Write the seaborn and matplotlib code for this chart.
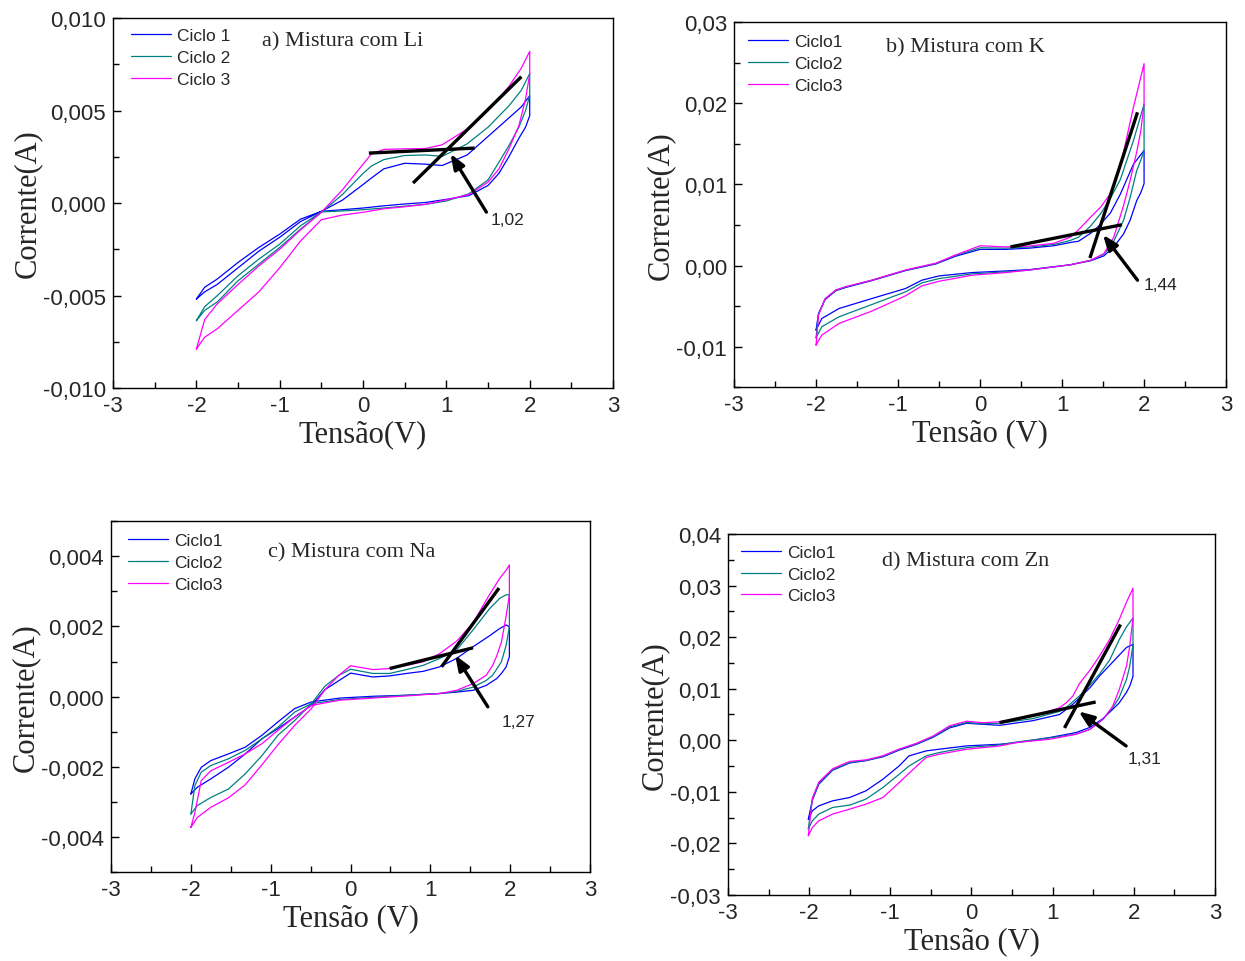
import matplotlib
matplotlib.use("Agg")
import matplotlib.pyplot as plt
from matplotlib.lines import Line2D
from matplotlib.ticker import MultipleLocator, FuncFormatter
import pandas as pd
import seaborn as sns

# ---------------- data (current in mA, potential in V) ----------------
# Panel a) Li
A_V_FWD = [-2.0, -1.9, -1.75, -1.5, -1.25, -1.0, -0.75, -0.5, -0.25, 0.0, 0.1, 0.25, 0.5, 0.75, 0.95, 1.25, 1.5, 1.75, 1.9, 2.0]
A_C1_FWD = [-5.19, -4.8, -4.4, -3.5, -2.6, -1.85, -1.0, -0.45, 0.15, 1.0, 1.35, 1.85, 2.15, 2.1, 2.03, 2.6, 3.6, 4.6, 5.2, 5.8]
A_C2_FWD = [-6.36, -5.8, -5.35, -4.2, -3.3, -2.4, -1.41, -0.5, 0.45, 1.6, 2.0, 2.35, 2.57, 2.6, 2.52, 3.2, 4.1, 5.25, 6.1, 7.0]
A_C3_FWD = [-7.89, -6.3, -5.45, -4.4, -3.4, -2.5, -1.45, -0.5, 0.7, 2.1, 2.65, 2.9, 2.93, 2.95, 3.15, 4.0, 5.0, 6.3, 7.3, 8.2]
A_V_REV = [2.0, 1.95, 1.87, 1.75, 1.63, 1.5, 1.27, 1.0, 0.75, 0.5, 0.25, 0.0, -0.25, -0.5, -0.75, -1.0, -1.25, -1.5, -1.75, -1.9, -2.0]
A_C1_REV = [4.72, 4.1, 3.5, 2.5, 1.6, 0.95, 0.4, 0.2, 0.03, -0.05, -0.15, -0.27, -0.36, -0.45, -0.87, -1.68, -2.4, -3.21, -4.11, -4.55, -5.19]
A_C2_REV = [5.8, 5.0, 4.1, 3.1, 2.2, 1.25, 0.5, 0.11, -0.07, -0.17, -0.27, -0.36, -0.43, -0.48, -1.23, -2.22, -3.03, -3.93, -5.01, -5.6, -6.36]
A_C3_REV = [6.97, 5.62, 4.18, 2.92, 1.84, 1.13, 0.45, 0.18, -0.07, -0.2, -0.31, -0.5, -0.65, -0.9, -2.05, -3.5, -4.8, -5.8, -6.8, -7.25, -7.89]

# Panel b) K
B_V_FWD = [-2.0, -1.97, -1.89, -1.76, -1.64, -1.32, -0.91, -0.54, -0.3, 0.0, 0.31, 0.6, 0.9, 1.1, 1.2, 1.35, 1.47, 1.59, 1.71, 1.87, 2.0]
B_C1_FWD = [-7.95, -5.9, -4.2, -3.1, -2.7, -1.85, -0.62, 0.2, 1.15, 2.0, 2.0, 2.15, 2.45, 2.85, 3.0, 4.0, 5.1, 6.5, 8.8, 12.5, 14.2]
B_C2_FWD = [-8.9, -6.0, -4.1, -3.05, -2.65, -1.8, -0.58, 0.25, 1.25, 2.2, 2.15, 2.3, 2.6, 3.1, 3.5, 4.9, 6.4, 8.3, 10.6, 15.4, 19.9]
B_C3_FWD = [-9.8, -6.1, -4.1, -3.0, -2.6, -1.8, -0.55, 0.3, 1.3, 2.45, 2.3, 2.4, 2.75, 3.5, 4.4, 6.0, 7.2, 8.9, 12.2, 19.5, 24.9]
B_V_REV = [2.0, 1.96, 1.91, 1.83, 1.75, 1.63, 1.51, 1.35, 1.1, 0.6, 0.31, -0.1, -0.5, -0.71, -0.91, -1.32, -1.72, -1.93, -2.0]
B_C1_REV = [10.1, 9.0, 8.0, 5.6, 3.9, 2.3, 1.2, 0.6, 0.1, -0.5, -0.66, -0.86, -1.27, -1.8, -2.83, -4.06, -5.29, -6.52, -7.95]
B_C2_REV = [14.2, 13.0, 11.7, 8.4, 5.6, 3.0, 1.4, 0.66, 0.1, -0.55, -0.78, -1.02, -1.6, -2.13, -3.24, -4.8, -6.31, -7.54, -8.9]
B_C3_REV = [19.9, 16.6, 14.0, 10.5, 7.4, 3.5, 1.48, 0.66, 0.1, -0.55, -0.86, -1.19, -1.93, -2.5, -3.73, -5.61, -7.13, -8.57, -9.8]

# Panel c) Na
C_V_FWD = [-2.0, -1.92, -1.75, -1.53, -1.32, -1.11, -0.91, -0.7, -0.49, -0.32, -0.15, 0.0, 0.28, 0.49, 0.7, 0.91, 1.12, 1.33, 1.535, 1.74, 1.87, 1.95, 1.99]
C_C1_FWD = [-2.77, -2.58, -2.34, -2.01, -1.63, -1.2, -0.91, -0.58, -0.25, 0.2, 0.45, 0.67, 0.56, 0.59, 0.66, 0.72, 0.85, 1.09, 1.42, 1.73, 1.94, 2.04, 1.99]
C_C2_FWD = [-3.34, -3.1, -2.87, -2.63, -2.2, -1.68, -1.1, -0.68, -0.2, 0.3, 0.6, 0.78, 0.66, 0.66, 0.77, 0.89, 1.09, 1.33, 1.9, 2.5, 2.8, 2.9, 2.9]
C_C3_FWD = [-3.72, -3.44, -3.15, -2.88, -2.51, -1.94, -1.37, -0.82, -0.34, 0.2, 0.6, 0.88, 0.77, 0.8, 0.89, 0.99, 1.23, 1.58, 2.1, 2.9, 3.37, 3.6, 3.75]
C_V_REV = [1.99, 1.95, 1.89, 1.83, 1.78, 1.7, 1.535, 1.33, 1.12, 0.7, 0.28, -0.13, -0.49, -0.7, -0.91, -1.11, -1.32, -1.53, -1.75, -1.87, -1.95, -2.0]
C_C1_REV = [1.14, 0.85, 0.66, 0.51, 0.44, 0.32, 0.18, 0.13, 0.09, 0.04, 0.01, -0.04, -0.15, -0.34, -0.72, -1.1, -1.44, -1.63, -1.82, -2.01, -2.34, -2.77]
C_C2_REV = [1.99, 1.47, 0.99, 0.78, 0.61, 0.46, 0.27, 0.15, 0.09, 0.04, -0.02, -0.08, -0.2, -0.44, -0.87, -1.2, -1.53, -1.77, -1.96, -2.15, -2.53, -3.34]
C_C3_REV = [2.9, 2.3, 1.55, 1.15, 0.89, 0.61, 0.37, 0.18, 0.09, 0.02, -0.04, -0.1, -0.25, -0.58, -0.96, -1.34, -1.63, -1.87, -2.11, -2.39, -3.3, -3.72]

# Panel d) Zn
D_V_FWD = [-2.01, -1.96, -1.88, -1.71, -1.5, -1.3, -1.09, -0.89, -0.68, -0.47, -0.27, -0.06, 0.14, 0.35, 0.756, 1.085, 1.17, 1.25, 1.33, 1.46, 1.58, 1.7, 1.82, 1.91, 1.99]
D_C1_FWD = [-15.3, -11.6, -8.5, -5.8, -4.4, -3.95, -3.2, -1.9, -0.8, 0.6, 2.4, 3.3, 3.1, 2.9, 3.8, 5.0, 6.0, 7.0, 8.2, 10.2, 12.5, 14.5, 16.5, 18.0, 18.6]
D_C2_FWD = [-17.2, -11.4, -8.3, -5.7, -4.3, -3.9, -3.1, -1.8, -0.7, 0.7, 2.6, 3.45, 3.2, 3.3, 4.2, 5.6, 6.4, 7.5, 8.6, 10.7, 12.9, 15.5, 19.5, 22.0, 23.7]
D_C3_FWD = [-18.5, -11.2, -8.1, -5.5, -4.1, -3.8, -3.0, -1.7, -0.6, 0.85, 2.8, 3.7, 3.4, 3.6, 4.7, 6.3, 7.3, 8.6, 11.0, 13.6, 16.4, 19.5, 23.4, 26.8, 29.5]
D_V_REV = [1.99, 1.95, 1.91, 1.82, 1.74, 1.62, 1.46, 1.29, 0.96, 0.55, 0.35, -0.06, -0.4, -0.56, -0.77, -0.89, -1.09, -1.3, -1.5, -1.71, -1.88, -1.96, -2.01]
D_C1_REV = [12.4, 10.5, 9.3, 7.25, 6.0, 4.2, 2.5, 1.5, 0.52, -0.45, -0.77, -1.09, -1.74, -2.06, -3.03, -4.96, -7.54, -9.8, -11.09, -11.74, -12.7, -13.67, -15.3]
D_C2_REV = [18.6, 14.4, 11.8, 8.3, 6.3, 4.1, 2.1, 1.2, 0.45, -0.35, -0.9, -1.42, -2.38, -3.03, -5.0, -6.58, -9.15, -11.41, -12.57, -13.02, -14.31, -15.6, -17.2]
D_C3_REV = [23.7, 18.3, 14.4, 9.8, 6.6, 4.06, 2.13, 1.16, 0.19, -0.45, -1.1, -1.74, -2.71, -3.35, -6.4, -8.19, -11.09, -12.38, -13.35, -14.31, -15.6, -16.9, -18.5]

# tangent lines [V0, V1], [I0, I1] (mA) and onset annotation (tail, head, label)
A_TAN1_V, A_TAN1_I = [0.07, 1.34], [2.70, 2.97]
A_TAN2_V, A_TAN2_I = [0.60, 1.90], [1.08, 6.83]
A_ARROW_V, A_ARROW_I = [1.48, 1.05], [-0.49, 2.66]
A_ONSET = "1,02"
B_TAN1_V, B_TAN1_I = [0.37, 1.73], [2.3, 5.04]
B_TAN2_V, B_TAN2_I = [1.34, 1.92], [0.94, 18.9]
B_ARROW_V, B_ARROW_I = [1.92, 1.50], [-1.8, 3.8]
B_ONSET = "1,44"
C_TAN1_V, C_TAN1_I = [0.49, 1.535], [0.80, 1.39]
C_TAN2_V, C_TAN2_I = [1.14, 1.86], [0.85, 3.09]
C_ARROW_V, C_ARROW_I = [1.72, 1.31], [-0.29, 1.18]
C_ONSET = "1,27"
D_TAN1_V, D_TAN1_I = [0.345, 1.53], [3.42, 7.42]
D_TAN2_V, D_TAN2_I = [1.146, 1.836], [2.39, 22.45]
D_ARROW_V, D_ARROW_I = [1.905, 1.32], [-1.1, 5.6]
D_ONSET = "1,31"

TITLES = ["a) Mistura com Li", "b) Mistura com K", "c) Mistura com Na", "d) Mistura com Zn"]
LEGEND_A = ["Ciclo 1", "Ciclo 2", "Ciclo 3"]
LEGEND_BCD = ["Ciclo1", "Ciclo2", "Ciclo3"]
XLABELS = ["Tensão(V)", "Tensão (V)", "Tensão (V)", "Tensão (V)"]
YLABEL = "Corrente(A)"
COLORS = ["#0000FF", "#008080", "#FF00FF"]

# ---------------- style ----------------
sns.set_style("white")
plt.rcParams['font.family'] = ['Liberation Sans', 'DejaVu Sans']
plt.rcParams['axes.unicode_minus'] = False

fig = plt.figure(figsize=(12.45, 9.62), dpi=100)

panels = [
    dict(rect=[0.0908, 0.5956, 0.4016, 0.3846], vf=A_V_FWD, fw=[A_C1_FWD, A_C2_FWD, A_C3_FWD],
         vr=A_V_REV, rv=[A_C1_REV, A_C2_REV, A_C3_REV], ylim=(-0.010, 0.010), ymaj=0.005, ymin=0.0025, dec=3,
         t1=(A_TAN1_V, A_TAN1_I), t2=(A_TAN2_V, A_TAN2_I), ar=(A_ARROW_V, A_ARROW_I), on=A_ONSET,
         onpos=(1.53, -0.89), leg=LEGEND_A, legpos=(0.036, 0.973), tpos=(0.298, 0.938)),
    dict(rect=[0.5896, 0.5964, 0.3952, 0.3794], vf=B_V_FWD, fw=[B_C1_FWD, B_C2_FWD, B_C3_FWD],
         vr=B_V_REV, rv=[B_C1_REV, B_C2_REV, B_C3_REV], ylim=(-0.015, 0.030), ymaj=0.01, ymin=0.005, dec=2,
         t1=(B_TAN1_V, B_TAN1_I), t2=(B_TAN2_V, B_TAN2_I), ar=(B_ARROW_V, B_ARROW_I), on=B_ONSET,
         onpos=(1.99, -2.27), leg=LEGEND_BCD, legpos=(0.028, 0.968), tpos=(0.309, 0.932)),
    dict(rect=[0.0892, 0.0922, 0.3847, 0.3652], vf=C_V_FWD, fw=[C_C1_FWD, C_C2_FWD, C_C3_FWD],
         vr=C_V_REV, rv=[C_C1_REV, C_C2_REV, C_C3_REV], ylim=(-0.005, 0.005), ymaj=0.002, ymin=0.001, dec=3,
         t1=(C_TAN1_V, C_TAN1_I), t2=(C_TAN2_V, C_TAN2_I), ar=(C_ARROW_V, C_ARROW_I), on=C_ONSET,
         onpos=(1.89, -0.72), leg=LEGEND_BCD, legpos=(0.035, 0.966), tpos=(0.328, 0.912)),
    dict(rect=[0.5847, 0.0686, 0.3912, 0.3753], vf=D_V_FWD, fw=[D_C1_FWD, D_C2_FWD, D_C3_FWD],
         vr=D_V_REV, rv=[D_C1_REV, D_C2_REV, D_C3_REV], ylim=(-0.03, 0.04), ymaj=0.01, ymin=0.005, dec=2,
         t1=(D_TAN1_V, D_TAN1_I), t2=(D_TAN2_V, D_TAN2_I), ar=(D_ARROW_V, D_ARROW_I), on=D_ONSET,
         onpos=(1.92, -3.6), leg=LEGEND_BCD, legpos=(0.027, 0.970), tpos=(0.316, 0.925)),
]

serif = ['Liberation Serif', 'DejaVu Serif']

for i, p in enumerate(panels):
    ax = fig.add_axes(p['rect'])
    rows = []
    for c in range(3):
        vs = list(p['vf']) + list(p['vr'])
        cs = list(p['fw'][c]) + list(p['rv'][c])
        for k, (v, cur) in enumerate(zip(vs, cs)):
            rows.append({'V': v, 'I': cur * 1e-3, 'Ciclo': p['leg'][c], 'ord': k})
    df = pd.DataFrame(rows)
    sns.lineplot(data=df, x='V', y='I', hue='Ciclo', palette=COLORS, sort=False,
                 estimator=None, legend=False, lw=0.9, ax=ax)

    # tangent lines
    for tv, ti in (p['t1'], p['t2']):
        ax.plot(tv, [t * 1e-3 for t in ti], color='black', lw=2.4, solid_capstyle='butt')
    av, ai = p['ar']
    ax.annotate('', xy=(av[1], ai[1] * 1e-3), xytext=(av[0], ai[0] * 1e-3),
                arrowprops=dict(arrowstyle='-|>,head_length=0.9,head_width=0.35', color='black',
                                lw=2.4, shrinkA=0, shrinkB=0))
    ax.text(p['onpos'][0], p['onpos'][1] * 1e-3, p['on'], fontsize=12.5, ha='left', va='center')

    ax.set_xlim(-3, 3)
    ax.set_ylim(*p['ylim'])
    ax.xaxis.set_major_locator(MultipleLocator(1))
    ax.xaxis.set_minor_locator(MultipleLocator(0.5))
    ax.yaxis.set_major_locator(MultipleLocator(p['ymaj']))
    ax.yaxis.set_minor_locator(MultipleLocator(p['ymin']))
    dec = p['dec']
    ax.yaxis.set_major_formatter(FuncFormatter(lambda y, pos, d=dec: (f"{y:.{d}f}" if abs(y) > 1e-12 else f"{0:.{d}f}").replace('.', ',')))
    ax.xaxis.set_major_formatter(FuncFormatter(lambda x, pos: f"{int(round(x))}"))
    ax.tick_params(which='both', direction='in', bottom=True, left=True, top=False, right=False,
                   width=1.0, color='black', labelsize=16, pad=5)
    ax.tick_params(which='major', length=6)
    ax.tick_params(which='minor', length=4)
    for s in ax.spines.values():
        s.set_linewidth(1.0)
        s.set_color('black')
    ax.set_xlabel(XLABELS[i], family=serif, fontsize=22, labelpad=2)
    ax.set_ylabel(YLABEL, family=serif, fontsize=22, labelpad=1)

    handles = [Line2D([], [], color=col, lw=0.9) for col in COLORS]
    ax.legend(handles, p['leg'], loc='upper left', bbox_to_anchor=p['legpos'], frameon=False,
              fontsize=12.5, handlelength=2.3, handletextpad=0.35, labelspacing=0.38,
              borderpad=0, borderaxespad=0)
    ax.text(p['tpos'][0], p['tpos'][1], TITLES[i], transform=ax.transAxes, family=serif,
            fontsize=16, ha='left', va='center')

fig.savefig("out.png", dpi=100)
